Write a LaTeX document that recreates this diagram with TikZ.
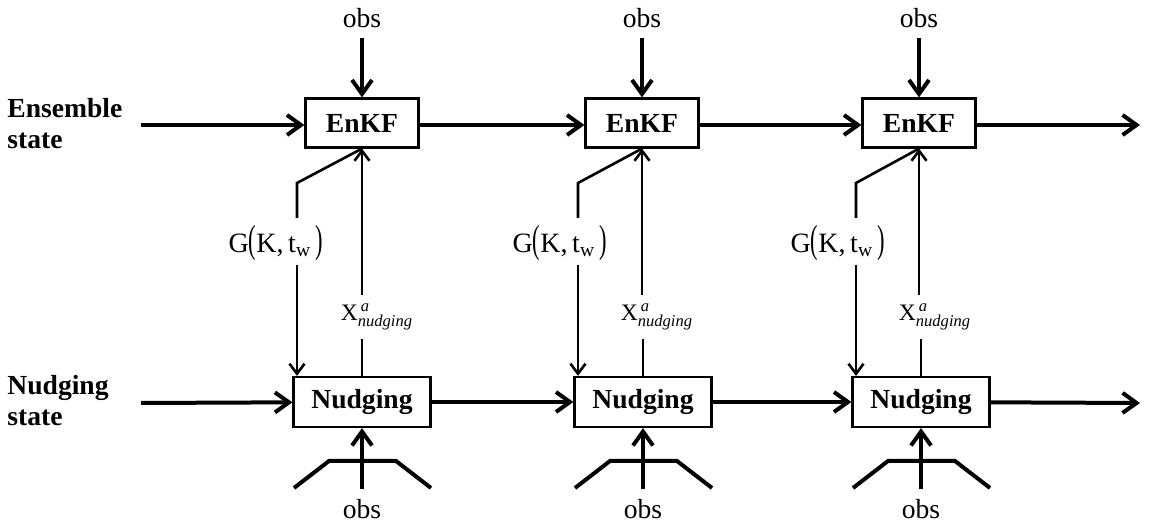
\documentclass[tikz,border=0pt]{standalone}
\usepackage{amsmath}
\usepackage{fontspec}
\setmainfont{Liberation Serif}
\usetikzlibrary{
    arrows.meta,
    calc,
    positioning
}
\newcommand{\tallparen}[1]{\scalebox{0.8}[1.4]{#1}}

\begin{document}
\begin{tikzpicture}[x=0.5pt, y=-0.5pt,
    flowbox/.style={draw, line width=1.1pt, inner sep=0pt, font=\fontsize{13.8}{16}\selectfont\bfseries},
    enkfbox/.style={flowbox, minimum width=56.5pt, minimum height=24.5pt},
    nudgebox/.style={flowbox, minimum width=68.5pt, minimum height=25pt},
    rowlabel/.style={anchor=west, align=left, inner sep=0pt, font=\fontsize{13.8}{15.5}\selectfont\bfseries},
    obslabel/.style={inner xsep=2pt, inner ysep=5pt, font=\fontsize{13.8}{16}\selectfont},
    obslow/.style={obslabel, inner ysep=1pt},
    gainlabel/.style={inner sep=2pt, font=\fontsize{14}{16}\selectfont},
    anlabel/.style={inner sep=4pt, font=\fontsize{11.8}{14}\selectfont},
    mainarrow/.style={line width=2pt, -{Straight Barb[length=7pt, width=10pt]}},
    mainline/.style={line width=2pt},
    thinarrow/.style={line width=1.3pt, -{Straight Barb[length=5pt, width=7.5pt]}},
    thinline/.style={line width=1.3pt}
]
    \useasboundingbox (0,0) rectangle (1149,522);

    % rows
    \node[rowlabel] (enslabel) at (7,124) {Ensemble\\state};
    \node[rowlabel] (nudlabel) at (7,401) {Nudging\\state};

    \coordinate (ensin) at (141,125);
    \coordinate (ensout) at (1140,125);
    \coordinate (nudin) at (141,403);
    \coordinate (nudout) at (1140,403);

    % boxes
    \node[enkfbox] (enkfA) at (362,123) {EnKF};
    \node[enkfbox] (enkfB) at (642,123) {EnKF};
    \node[enkfbox] (enkfC) at (919,123) {EnKF};
    \node[nudgebox] (nudgeA) at (362,402) {Nudging};
    \node[nudgebox] (nudgeB) at (643,402) {Nudging};
    \node[nudgebox] (nudgeC) at (921,402) {Nudging};

    \draw[mainarrow] (ensin) -- (ensin -| enkfA.west);
    \draw[mainarrow] (enkfA.east |- ensin) -- (ensin -| enkfB.west);
    \draw[mainarrow] (enkfB.east |- ensin) -- (ensin -| enkfC.west);
    \draw[mainarrow] (enkfC.east |- ensin) -- (ensout);
    \draw[mainarrow] (nudin) -- (nudgeA);
    \draw[mainarrow] (nudgeA) -- (nudgeB);
    \draw[mainarrow] (nudgeB) -- (nudgeC);
    \draw[mainarrow] (nudgeC) -- (nudout);

    % observations
    \node[obslabel] (obstopA) at (362,18) {obs};
    \node[obslabel] (obstopB) at (642,18) {obs};
    \node[obslabel] (obstopC) at (919,18) {obs};
    \node[obslow] (obsbotA) at (362,509) {obs};
    \node[obslow] (obsbotB) at (643,509) {obs};
    \node[obslow] (obsbotC) at (921,509) {obs};

    \draw[mainarrow] (obstopA) -- (enkfA);
    \draw[mainarrow] (obstopB) -- (enkfB);
    \draw[mainarrow] (obstopC) -- (enkfC);
    \draw[mainarrow, shorten <=4pt] (obsbotA) -- (nudgeA);
    \draw[mainarrow, shorten <=4pt] (obsbotB) -- (nudgeB);
    \draw[mainarrow, shorten <=4pt] (obsbotC) -- (nudgeC);

    \draw[mainline] (294,488) -- (329,461) -- (396,461) -- (431,488);
    \draw[mainline] (575,488) -- (610,461) -- (677,461) -- (712,488);
    \draw[mainline] (853,488) -- (888,461) -- (955,461) -- (990,488);

    % gain from EnKF to nudging
    \node[gainlabel] (gainA) at (276,243) {G\tallparen{(}K,\,t\textsubscript{w}\,\tallparen{)}};
    \node[gainlabel] (gainB) at (560,243) {G\tallparen{(}K,\,t\textsubscript{w}\,\tallparen{)}};
    \node[gainlabel] (gainC) at (838,243) {G\tallparen{(}K,\,t\textsubscript{w}\,\tallparen{)}};

    \coordinate (gtopA) at (297,218);
    \coordinate (gbotA) at (297,265);
    \coordinate (gtopB) at (578,218);
    \coordinate (gbotB) at (578,265);
    \coordinate (gtopC) at (856,218);
    \coordinate (gbotC) at (856,265);

    \draw[thinline] (enkfA.south) -- (297,183) -- (gtopA);
    \draw[thinline] (enkfB.south) -- (578,183) -- (gtopB);
    \draw[thinline] (enkfC.south) -- (856,183) -- (gtopC);
    \draw[thinarrow] (gbotA) -- (gbotA |- nudgeA.north);
    \draw[thinarrow] (gbotB) -- (gbotB |- nudgeB.north);
    \draw[thinarrow] (gbotC) -- (gbotC |- nudgeC.north);

    % analysis from nudging to EnKF
    \node[anlabel] (anA) at (377,317) {X$^{\,\textit{a}}_{\textit{nudging}}$};
    \node[anlabel] (anB) at (657,317) {X$^{\,\textit{a}}_{\textit{nudging}}$};
    \node[anlabel] (anC) at (935,317) {X$^{\,\textit{a}}_{\textit{nudging}}$};

    \draw[thinarrow] (enkfA.south |- anA.north) -- (enkfA.south);
    \draw[thinarrow] (enkfB.south |- anB.north) -- (enkfB.south);
    \draw[thinarrow] (enkfC.south |- anC.north) -- (enkfC.south);
    \draw[thinline] (nudgeA.north) -- (nudgeA.north |- anA.south);
    \draw[thinline] (nudgeB.north) -- (nudgeB.north |- anB.south);
    \draw[thinline] (nudgeC.north) -- (nudgeC.north |- anC.south);
\end{tikzpicture}
\end{document}
